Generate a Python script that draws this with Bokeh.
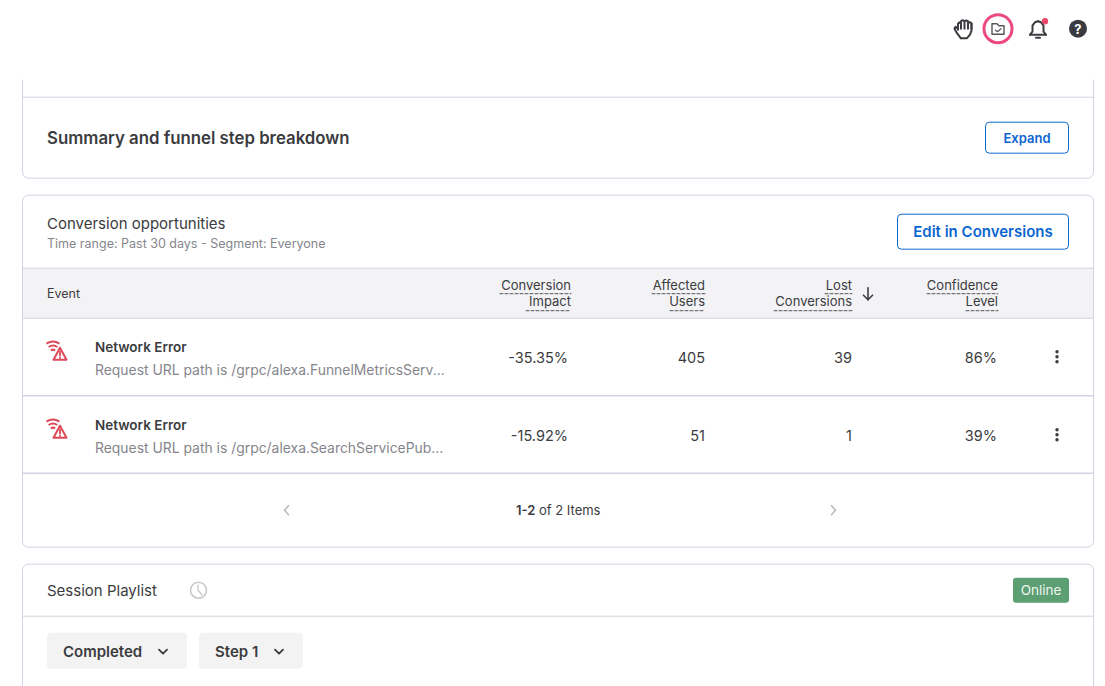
from bokeh.core.properties import value
from bokeh.embed import file_html
from bokeh.models import Range1d
from bokeh.plotting import figure
from bokeh.resources import INLINE

# ---- content of the table ----
event_names = ["Network Error", "Network Error"]
event_paths = ["Request URL path is /grpc/alexa.FunnelMetricsServ...",
               "Request URL path is /grpc/alexa.SearchServicePub..."]
impact = ["-35.35%", "-15.92%"]
affected = ["405", "51"]
lost = ["39", "1"]
confidence = ["86%", "39%"]
header_lines = [("Conversion", "Impact"), ("Affected", "Users"), ("Lost", "Conversions"), ("Confidence", "Level")]

FONT = "Inter"
SEMI = "Inter SemiBold"
INK = "#3b3c40"
GREY = "#85868c"
LINE = "#d2d3e3"
BLUE = "#0b66d0"
RED = "#dd4a58"

W, H = 1105, 686
p = figure(width=W, height=H, output_backend="svg", toolbar_location=None,
           x_range=Range1d(0.5, W + 0.5), y_range=Range1d(H + 0.8, 0.8), min_border=0, outline_line_color=None,
           background_fill_color="white", border_fill_color="white")
p.xaxis.visible = False
p.yaxis.visible = False
p.grid.visible = False


def box(l, t, r, b, fill=None, line=LINE, radius=0, width=1.0):
    p.quad(left=[l], right=[r], top=[t], bottom=[b], fill_color=fill or "white", fill_alpha=1 if fill else 0,
           line_color=line, line_width=width, border_radius=radius, line_alpha=1 if line else 0)


def text(x, y, s, size=14, color=INK, style="normal", align="left", font=FONT):
    p.text(x=[x], y=[y], text=[s], text_font=value(font), text_font_size=f"{size}px", text_color=color,
           text_font_style=style, text_align=align, text_baseline="middle")


def poly(xs, ys, color=INK, width=1.5, dash="solid"):
    p.line(xs, ys, line_color=color, line_width=width, line_dash=dash, line_cap="round", line_join="round")


# ---- cards ----
box(22.5, 60, 1093.5, 178.5, radius=6)
p.quad(left=[10], right=[1100], top=[20], bottom=[80], fill_color="white", line_color=None)
poly([22.5, 1093.5], [97.5, 97.5], LINE, 1)
box(22.5, 195.5, 1093.5, 547.5, radius=6)
box(22.5, 564.5, 1093.5, 720, radius=6)

# ---- top bar icons ----
# hand
poly([958, 955.5, 954.5, 957, 960, 961], [29, 27, 29, 33.5, 37.5, 38.5], INK, 2)
poly([961, 967, 970, 971.5, 971.5, 971.5], [38.5, 38.5, 35, 31, 26, 24], INK, 2)
poly([958, 958, 959.5, 961, 961], [30, 24, 22.5, 24, 29], INK, 2)
poly([961, 961, 962.7, 964.5, 964.5], [24, 21.5, 20.5, 21.5, 29], INK, 2)
poly([964.5, 964.5, 966.2, 968, 968], [21.5, 21.5, 20.8, 21.5, 29], INK, 2)
poly([968, 968, 969.7, 971.5, 971.5], [24, 23.5, 22.5, 23.5, 29], INK, 2)
# folder in a pink ring
p.circle(x=[998], y=[29], radius=14, fill_color=None, line_color="#ec4a7e", line_width=3)
poly([992, 992, 997, 999, 1004, 1004, 992], [34.5, 24, 24, 26, 26, 34.5, 34.5], "#55565c", 1.4)
poly([995.5, 997.5, 1001], [30.5, 32, 29], "#55565c", 1.2)
# bell
poly([1030, 1032.5, 1032.5, 1035, 1038], [35, 32, 26, 22.5, 21.5], INK, 2)
poly([1038, 1041, 1043.5, 1043.5, 1046], [21.5, 22.5, 26, 32, 35], INK, 2)
poly([1030, 1046], [35, 35], INK, 2)
poly([1036, 1040], [38, 38], INK, 2)
p.circle(x=[1045], y=[21.5], radius=3.2, fill_color="#ec4a6e", line_color=None)
# help
p.circle(x=[1078], y=[29], radius=9, fill_color="#3a3b40", line_color=None)
text(1078, 29.5, "?", 13, "white", "bold", "center")

# ---- summary card ----
text(47, 138, "Summary and funnel step breakdown", 16.8, INK, "normal", font=SEMI)
box(985.5, 122.5, 1068.5, 153.5, line=BLUE, radius=4)
text(1027, 138.5, "Expand", 13, BLUE, "normal", "center", font=SEMI)

# ---- conversion card ----
text(47, 224, "Conversion opportunities", 15, INK)
text(47, 244, "Time range: Past 30 days - Segment: Everyone", 12.5, GREY)
box(897.5, 214.5, 1068.5, 249.5, line=BLUE, radius=4)
text(983, 232, "Edit in Conversions", 15, BLUE, "normal", "center", font=SEMI)

p.quad(left=[23], right=[1093], top=[268.5], bottom=[318.5], fill_color="#f3f3f6", line_color=None)
poly([23, 1093], [268.5, 268.5], LINE, 1)
poly([23, 1093], [318.5, 318.5], LINE, 1)
poly([23, 1093], [396, 396], LINE, 1.5)
poly([23, 1093], [473.5, 473.5], LINE, 1.5)
text(47, 294, "Event", 12.5, INK)

header_right = [571, 705, 852, 998]
for rx, (a, b) in zip(header_right, header_lines):
    text(rx, 285.5, a, 13, INK, "normal", "right")
    text(rx, 301.5, b, 13, INK, "normal", "right")
for l, r, y in [(500, 571, 294), (526, 571, 311), (652, 705, 294), (670, 705, 311),
                (825, 852, 294), (774, 852, 311), (927, 998, 294), (966, 998, 311)]:
    poly([l, r], [y, y], "#55565c", 1, [3, 2])
# sort arrow
poly([868, 868], [288, 300], INK, 1.6)
poly([863.5, 868, 872.5], [295.5, 300, 295.5], INK, 1.6)

row_y = [357, 435]
value_right = [568, 705, 852, 997]
for i, y in enumerate(row_y):
    # wifi-warning icon
    for rad in (12, 8, 4):
        p.arc(x=[53], y=[y - 3], radius=rad, start_angle=1.0, end_angle=2.15, direction="anticlock",
              line_color=RED, line_width=2)
    poly([60, 66.5, 53.5, 60], [y - 9, y + 3, y + 3, y - 9], RED, 2)
    poly([60, 60], [y - 5, y - 1], RED, 1.8)
    poly([60, 60], [y + 1, y + 1.3], RED, 1.8)
    text(95, y - 10, event_names[i], 13.5, INK, "normal", font=SEMI)
    text(95, y + 13, event_paths[i], 13.9, GREY)
    text(value_right[0], y + 1, impact[i], 14.5, INK, "normal", "right")
    text(value_right[1], y + 1, affected[i], 14.5, INK, "normal", "right")
    text(value_right[2], y + 1, lost[i], 14.5, INK, "normal", "right")
    text(value_right[3], y + 1, confidence[i], 14.5, INK, "normal", "right")
    p.scatter(x=[1057, 1057, 1057], y=[y - 5, y, y + 5], size=3.4, fill_color=INK, line_color=None)

# pagination
poly([288.5, 284.5, 288.5], [506, 510.5, 515], "#b5b6bb", 1.4)
poly([831.5, 835.5, 831.5], [506, 510.5, 515], "#b5b6bb", 1.4)
text(516, 510, "1-2", 13, INK, "normal", font=SEMI)
text(539, 510, "of 2 Items", 13, INK)

# ---- session playlist ----
text(47, 590.5, "Session Playlist", 15, INK)
p.circle(x=[198.5], y=[590.5], radius=8, fill_color=None, line_color="#c9cacd", line_width=1.6)
poly([198, 198, 202], [585.5, 590.5, 595], "#c9cacd", 1.4)
poly([23, 1093], [616.5, 616.5], LINE, 1)
p.quad(left=[1013], right=[1069], top=[578], bottom=[603], fill_color="#5c9f72", line_color=None, border_radius=3)
text(1041, 590.5, "Online", 13.5, "#eef6f0", "normal", "center")

p.quad(left=[47, 199], right=[187, 303], top=[633, 633], bottom=[669, 669],
       fill_color="#f3f3f4", line_color=None, border_radius=4)
text(63, 651.5, "Completed", 15, INK, "normal", font=SEMI)
text(215, 651.5, "Step 1", 15, INK, "normal", font=SEMI)
poly([159, 163, 167], [650, 654, 650], INK, 1.8)
poly([275, 279, 283], [650, 654, 650], INK, 1.8)

open("out.html", "w").write(file_html(p, INLINE))
